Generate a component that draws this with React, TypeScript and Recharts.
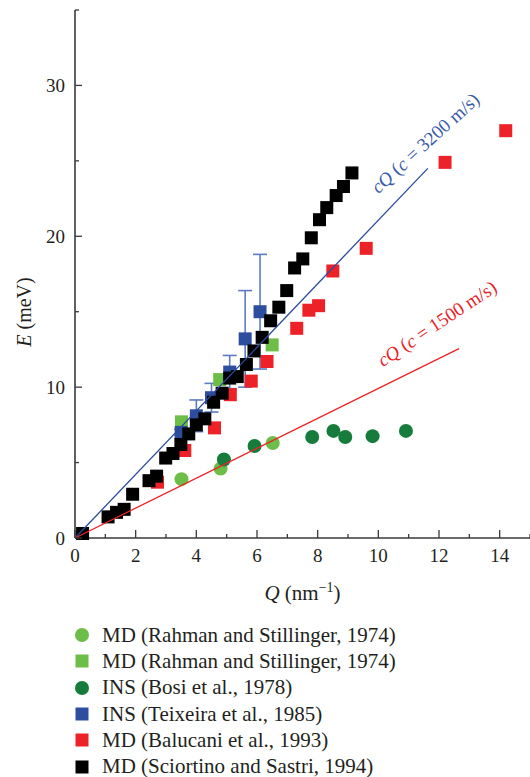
import { ScatterChart, Scatter, XAxis, YAxis, ErrorBar, Legend, ReferenceDot, Label } from 'recharts'

const FONT = '"Liberation Serif", "DejaVu Serif", serif'
const INK = '#231f20'
const AXIS = '#3a3a3a'

// E (meV) against Q (nm^-1)
const rahmanCircleQ = [3.51, 4.8, 6.52]
const rahmanCircleE = [3.9, 4.6, 6.3]
const rahmanSquareQ = [3.51, 4.77, 6.5]
const rahmanSquareE = [7.7, 10.5, 12.8]
const bosiQ = [4.91, 5.92, 7.82, 8.52, 8.91, 9.81, 10.91]
const bosiE = [5.2, 6.1, 6.7, 7.1, 6.7, 6.75, 7.1]
const teixeiraQ = [3.5, 4.0, 4.5, 5.1, 5.61, 6.1]
const teixeiraE = [7.0, 8.1, 9.3, 11.0, 13.2, 15.0]
const teixeiraErr = [0.2, 1.05, 0.95, 1.1, 3.2, 3.8]
const balucaniQ = [2.72, 3.62, 4.6, 5.12, 5.81, 6.33, 7.31, 7.71, 8.03, 8.5, 9.6, 12.2, 14.2]
const balucaniE = [3.7, 5.8, 7.3, 9.5, 10.4, 11.7, 13.9, 15.1, 15.4, 17.7, 19.2, 24.9, 27.0]
const sciortinoQ = [0.25, 1.09, 1.37, 1.62, 1.9, 2.44, 2.69, 2.99, 3.23, 3.49, 3.75, 4.0, 4.28, 4.57, 4.85, 5.1, 5.35, 5.65, 5.9, 6.17, 6.45, 6.72, 6.98, 7.24, 7.51, 7.79, 8.06, 8.3, 8.61, 8.85, 9.13]
const sciortinoE = [0.3, 1.4, 1.7, 1.9, 2.9, 3.8, 4.1, 5.3, 5.6, 6.2, 6.9, 7.5, 7.9, 9.0, 9.6, 10.6, 10.7, 11.5, 12.4, 13.3, 14.4, 15.3, 16.4, 17.9, 18.5, 19.9, 21.1, 21.9, 22.7, 23.3, 24.2]

// cQ lines (end points as drawn)
const line3200Q = [0, 11.63]
const line3200E = [0, 24.5]
const line1500Q = [0, 12.66]
const line1500E = [0, 12.55]

const xTicks = [0, 1, 2, 3, 4, 5, 6, 7, 8, 9, 10, 11, 12, 13, 14, 15]
const yTicks = [0, 5, 10, 15, 20, 25, 30, 35]

// legend labels, in the order shown
const seriesNames = [
  'MD (Rahman and Stillinger, 1974)',
  'MD (Rahman and Stillinger, 1974) ',
  'INS (Bosi et al., 1978)',
  'INS (Teixeira et al., 1985)',
  'MD (Balucani et al., 1993)',
  'MD (Sciortino and Sastri, 1994)',
]

const LIGHT_GREEN = '#6cbe48'
const DARK_GREEN = '#167b3b'
const BLUE = '#2d4e9f'
const RED = '#ed2229'
const BLACK = '#000000'

const pts = (q: number[], e: number[], err?: number[]) =>
  q.map((x, i) => ({ q: x, e: e[i], err: err ? err[i] : 0 }))

const square = (color: string, size = 13) => (p: any) =>
  <rect x={p.cx - size / 2} y={p.cy - size / 2} width={size} height={size} fill={color} />
const dot = (color: string, r = 7) => (p: any) => <circle cx={p.cx} cy={p.cy} r={r} fill={color} />
const noShape = () => <g />

const BottomTick = (p: any) => {
  const v = p.payload.value
  const major = v % 2 === 0
  return (
    <g>
      <line x1={p.x} y1={p.y} x2={p.x} y2={p.y - (major ? 8 : 4)} stroke={AXIS} strokeWidth={1.3} />
      {major && (
        <text x={p.x} y={p.y + 24} textAnchor="middle" fontFamily={FONT} fontSize={19} fill={INK}>{v}</text>
      )}
    </g>
  )
}

const TopTick = (p: any) => {
  const major = p.payload.value % 2 === 0
  return <line x1={p.x} y1={p.y} x2={p.x} y2={p.y + (major ? 7 : 4)} stroke={AXIS} strokeWidth={1.3} />
}

const LeftTick = (p: any) => {
  const v = p.payload.value
  const major = v % 10 === 0
  return (
    <g>
      <line x1={p.x} y1={p.y} x2={p.x + (major ? 7 : 4)} y2={p.y} stroke={AXIS} strokeWidth={1.3} />
      {major && (
        <text x={p.x - 10} y={p.y} dy="0.35em" textAnchor="end" fontFamily={FONT} fontSize={19} fill={INK}>{v}</text>
      )}
    </g>
  )
}

const RightTick = (p: any) => {
  const major = p.payload.value % 10 === 0
  return <line x1={p.x} y1={p.y} x2={p.x - (major ? 7 : 4)} y2={p.y} stroke={AXIS} strokeWidth={1.3} />
}

const renderLegend = (props: any) => (
  <div style={{ fontFamily: FONT, fontSize: 21, color: INK, paddingLeft: 75 }}>
    {(props.payload || [])
      .filter((entry: any) => entry.type !== 'none' && seriesNames.includes(entry.value))
      .map((entry: any) => (
        <div key={entry.value} style={{ display: 'flex', alignItems: 'center', height: 26.3, whiteSpace: 'nowrap' }}>
          <svg width={14} height={14} style={{ marginRight: 13, flex: 'none' }}>
            {entry.type === 'circle'
              ? <circle cx={7} cy={7} r={7} fill={entry.color} />
              : <rect x={0.5} y={0.5} width={13} height={13} fill={entry.color} />}
          </svg>
          <span>{entry.value}</span>
        </div>
      ))}
  </div>
)

export default function App() {
  return (
    <div style={{ position: 'absolute', left: 0, top: 0, width: 530, height: 777, background: '#fff' }}>
      <ScatterChart width={530} height={777} margin={{ top: 10, right: 0, bottom: 209, left: 15 }}>
        <XAxis
          dataKey="q" type="number" domain={[0, 15]} ticks={xTicks} interval={0}
          height={30} tickSize={0} tickMargin={0} tickLine={false}
          axisLine={{ stroke: AXIS, strokeWidth: 1.6 }} tick={(p: any) => <BottomTick {...p} />}
        >
          <Label
            content={(p: any) => (
              <text x={p.viewBox.x + p.viewBox.width / 2} y={p.viewBox.y + 62} textAnchor="middle" fontFamily={FONT} fontSize={21} fill={INK}>
                <tspan fontStyle="italic">Q</tspan> (nm<tspan dy={-8} fontSize={14}>−1</tspan><tspan dy={8}>)</tspan>
              </text>
            )}
          />
        </XAxis>
        <XAxis
          xAxisId="top" orientation="top" type="number" domain={[0, 15]} ticks={xTicks} interval={0}
          height={0} tickSize={0} tickMargin={0} tickLine={false}
          axisLine={{ stroke: AXIS, strokeWidth: 1.6 }} tick={(p: any) => <TopTick {...p} />}
        />
        <YAxis
          dataKey="e" type="number" domain={[0, 35]} ticks={yTicks} interval={0}
          width={60} tickSize={0} tickMargin={0} tickLine={false}
          axisLine={{ stroke: AXIS, strokeWidth: 1.6 }} tick={(p: any) => <LeftTick {...p} />}
        >
          <Label
            content={() => (
              <text x={24} y={312} transform="rotate(-90 24 312)" textAnchor="middle" dominantBaseline="central" fontFamily={FONT} fontSize={20} fill={INK}>
                <tspan fontStyle="italic">E</tspan> (meV)
              </text>
            )}
          />
        </YAxis>
        <YAxis
          yAxisId="right" orientation="right" type="number" domain={[0, 35]} ticks={yTicks} interval={0}
          width={0} tickSize={0} tickMargin={0} tickLine={false}
          axisLine={{ stroke: AXIS, strokeWidth: 1.6 }} tick={(p: any) => <RightTick {...p} />}
        />

        <Scatter name={seriesNames[0]} data={pts(rahmanCircleQ, rahmanCircleE)} fill={LIGHT_GREEN} legendType="circle" shape={dot(LIGHT_GREEN)} isAnimationActive={false} />
        <Scatter name={seriesNames[1]} data={pts(rahmanSquareQ, rahmanSquareE)} fill={LIGHT_GREEN} legendType="square" shape={square(LIGHT_GREEN)} isAnimationActive={false} />
        <Scatter name={seriesNames[2]} data={pts(bosiQ, bosiE)} fill={DARK_GREEN} legendType="circle" shape={dot(DARK_GREEN)} isAnimationActive={false} />
        <Scatter name={seriesNames[3]} data={pts(teixeiraQ, teixeiraE, teixeiraErr)} fill={BLUE} legendType="square" shape={square(BLUE)} isAnimationActive={false}>
          <ErrorBar dataKey="err" direction="y" width={7} stroke="#5b7cc2" strokeWidth={1.6} isAnimationActive={false} />
        </Scatter>
        <Scatter name={seriesNames[4]} data={pts(balucaniQ, balucaniE)} fill={RED} legendType="square" shape={square(RED)} isAnimationActive={false} />
        <Scatter name={seriesNames[5]} data={pts(sciortinoQ, sciortinoE)} fill={BLACK} legendType="square" shape={square(BLACK)} isAnimationActive={false} />

        <Scatter data={pts(line3200Q, line3200E)} fill="none" legendType="none" line={{ stroke: '#2b4a9c', strokeWidth: 1.3 }} shape={noShape} isAnimationActive={false} />
        <Scatter data={pts(line1500Q, line1500E)} fill="none" legendType="none" line={{ stroke: '#ec2228', strokeWidth: 1.3 }} shape={noShape} isAnimationActive={false} />

        <ReferenceDot
          x={11.54} y={26.2} ifOverflow="visible"
          shape={(p: any) => (
            <text x={p.cx} y={p.cy} transform={`rotate(-42 ${p.cx} ${p.cy})`} textAnchor="middle" dominantBaseline="central" fontFamily={FONT} fontSize={19} fill="#3a5aa8">
              <tspan fontStyle="italic">cQ</tspan> (<tspan fontStyle="italic">c</tspan> = 3200 m/s)
            </text>
          )}
        />
        <ReferenceDot
          x={11.93} y={14.23} ifOverflow="visible"
          shape={(p: any) => (
            <text x={p.cx} y={p.cy} transform={`rotate(-33.5 ${p.cx} ${p.cy})`} textAnchor="middle" dominantBaseline="central" fontFamily={FONT} fontSize={19} fill="#e8242a">
              <tspan fontStyle="italic">cQ</tspan> (<tspan fontStyle="italic">c</tspan> = 1500 m/s)
            </text>
          )}
        />

        <Legend
          layout="vertical" align="center" verticalAlign="middle"
          itemSorter={(item: any) => seriesNames.indexOf(item.value)}
          wrapperStyle={{ left: 0, top: 622, width: 530 }}
          content={renderLegend}
        />
      </ScatterChart>
    </div>
  )
}
